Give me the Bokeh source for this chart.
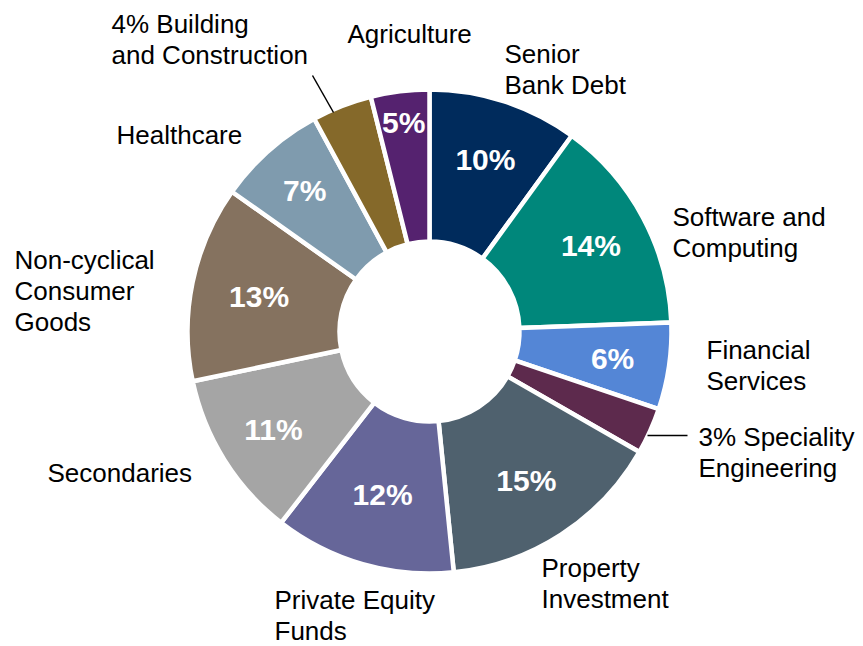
import math
from bokeh.plotting import figure
from bokeh.models import ColumnDataSource, Range1d
from bokeh.core.properties import value
from bokeh.embed import file_html
from bokeh.resources import INLINE

# ---- data ----
sectors = ["Senior Bank Debt", "Software and Computing", "Financial Services",
           "Speciality Engineering", "Property Investment", "Private Equity Funds",
           "Secondaries", "Non-cyclical Consumer Goods", "Healthcare",
           "Building and Construction", "Agriculture"]
shares = [10.0, 14.4, 5.8, 3.1, 15.1, 12.1, 11.2, 13.1, 7.3, 4.0, 3.9]
pct_labels = ["10%", "14%", "6%", "", "15%", "12%", "11%", "13%", "7%", "", "5%"]
outer_labels = ["Senior\nBank Debt", "Software and\nComputing", "Financial\nServices",
                "3% Speciality\nEngineering", "Property\nInvestment", "Private Equity\nFunds",
                "Secondaries", "Non-cyclical\nConsumer\nGoods", "Healthcare",
                "4% Building\nand Construction", "Agriculture"]
colors = ["#002B5C", "#00877B", "#5486D6", "#5D2A4D", "#4F616E", "#666699",
          "#A5A5A5", "#85725F", "#7F9BAE", "#85692A", "#55226F"]

# ---- layout (screen pixel space of the page) ----
W, H = 860, 646
def X(sx): return sx
def Y(sy): return H - sy

CX, CY = X(429), Y(331)
R_OUT, R_IN = 242, 90
label_r = [181, 183, 185, 180, 178, 170, 184, 174, 188, 180, 211]
# left x and first-line baseline (screen px)
outer_pos = [(504, 63), (672, 226), (706, 359), (698, 446), (541, 577), (274, 609),
             (47, 482), (14, 269), (116, 144), (111, 33), (347, 43)]
LINE_GAP = 31
HALF_CAP = 9.5
FONT = "Liberation Sans"

total = sum(shares)
starts, ends, mids = [], [], []
cum = 0.0
for s in shares:
    c0, c1 = cum / total, (cum + s) / total
    starts.append(math.pi / 2 - 2 * math.pi * c1)
    ends.append(math.pi / 2 - 2 * math.pi * c0)
    mids.append(math.pi / 2 - 2 * math.pi * (c0 + c1) / 2)
    cum += s

wsrc = ColumnDataSource(dict(x=[CX] * len(shares), y=[CY] * len(shares),
                             start=starts, end=ends, color=colors, name=sectors))

p = figure(width=W, height=H, output_backend="svg", toolbar_location=None,
           x_range=Range1d(0, W), y_range=Range1d(0, H),
           x_axis_type=None, y_axis_type=None,
           min_border=0, min_border_left=0, min_border_right=0,
           min_border_top=0, min_border_bottom=0)
p.outline_line_color = None
p.grid.visible = False
p.background_fill_color = "white"

p.annular_wedge(x="x", y="y", inner_radius=R_IN, outer_radius=R_OUT,
                start_angle="start", end_angle="end", fill_color="color",
                line_color="white", line_width=4.5, source=wsrc)

# percentage labels inside
px, py, pt = [], [], []
for i, t in enumerate(pct_labels):
    if t:
        px.append(CX + label_r[i] * math.cos(mids[i]))
        py.append(CY + label_r[i] * math.sin(mids[i]))
        pt.append(t)
p.text(x=px, y=py, text=pt, text_color="white", text_font=value(FONT),
       text_font_style="bold", text_font_size="30px",
       text_align="center", text_baseline="middle")

# outer category labels
lx, ly, lt = [], [], []
for lab, (sx, sy) in zip(outer_labels, outer_pos):
    for k, line in enumerate(lab.split("\n")):
        lx.append(X(sx))
        ly.append(Y(sy + k * LINE_GAP - HALF_CAP))
        lt.append(line)
p.text(x=lx, y=ly, text=lt, text_color="black", text_font=value(FONT),
       text_font_size="26px", text_align="left", text_baseline="middle")

# leader lines
p.segment(x0=[X(647), X(312)], y0=[Y(435), Y(75)],
          x1=[X(687), X(333)], y1=[Y(435), Y(112)],
          line_color="black", line_width=1.5)

open("out.html", "w").write(file_html(p, INLINE))
